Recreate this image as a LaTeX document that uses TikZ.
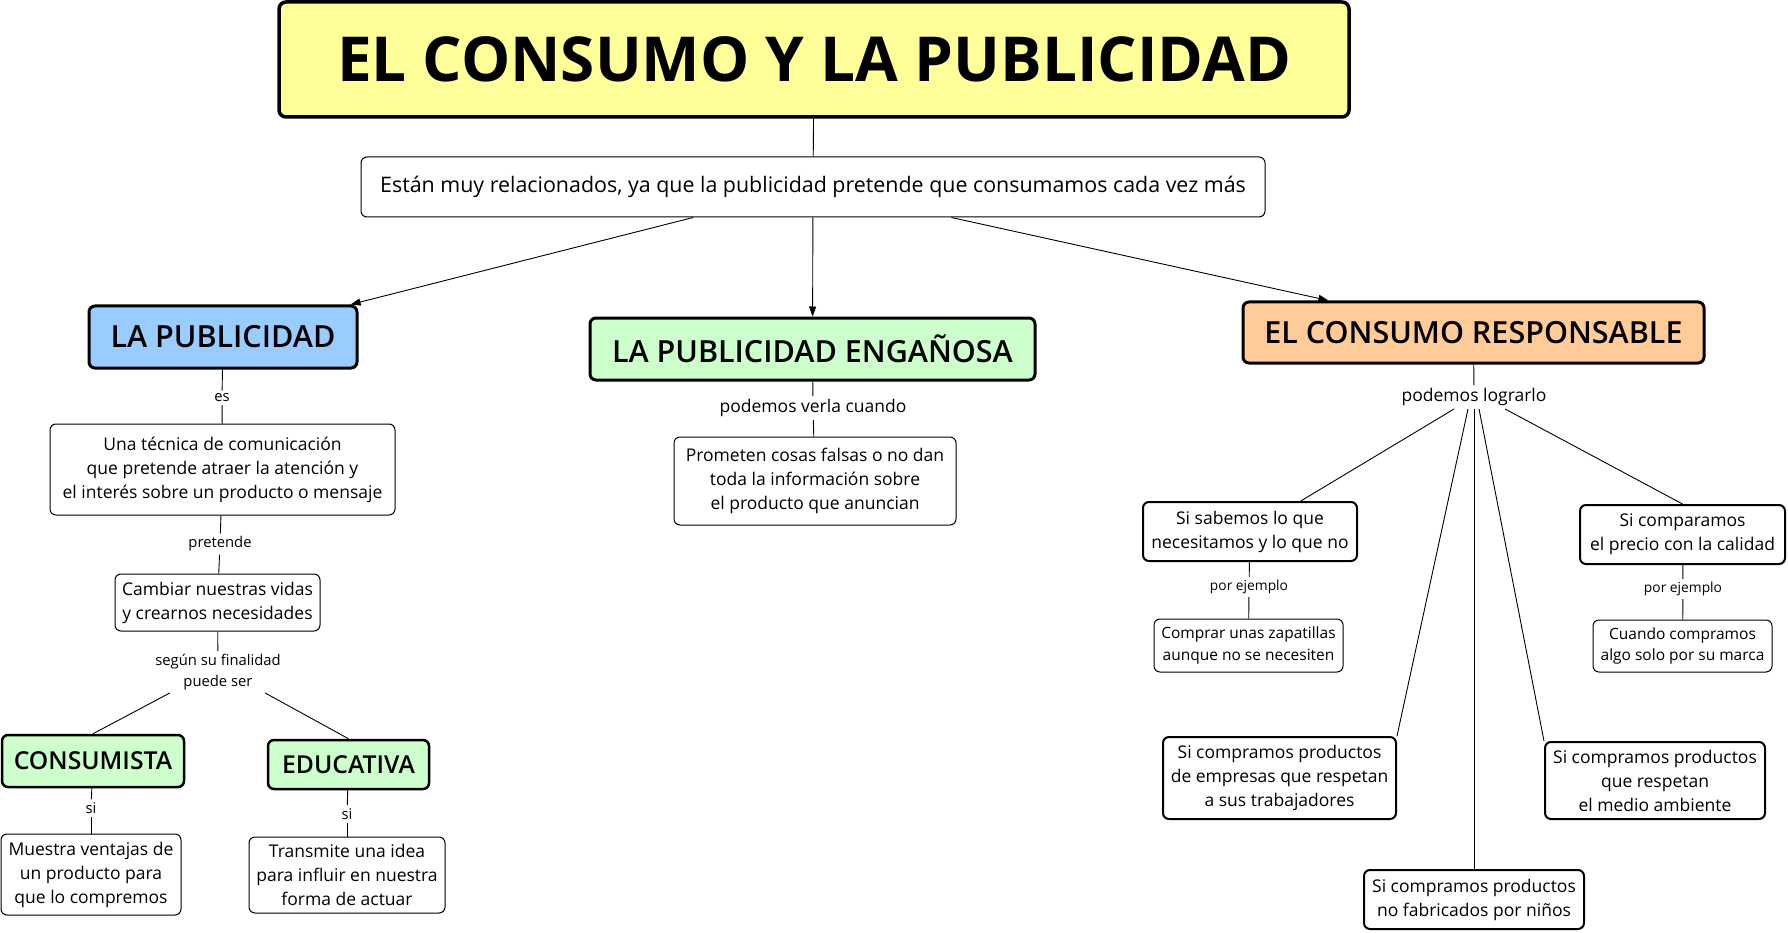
\documentclass[tikz,border=0pt]{standalone}
\usepackage{fontspec}
\setmainfont{Open Sans}
\newfontfamily\headfont{Open Sans Semibold}
\newfontfamily\titlefont{Open Sans Bold}
\usetikzlibrary{arrows.meta}
\definecolor{titleyellow}{RGB}{255,255,153}
\definecolor{pubblue}{RGB}{153,204,255}
\definecolor{enggreen}{RGB}{204,255,204}
\definecolor{resporange}{RGB}{255,204,153}

\begin{document}
\begin{tikzpicture}[x=1pt,y=-1pt,
  box/.style={draw, rounded corners=6pt, align=center, inner sep=2pt, fill=white, line width=1pt, font=\fontsize{17.5}{24}\selectfont},
  titlebox/.style={box, fill=titleyellow, line width=3.5pt, rounded corners=7pt, font=\titlefont\fontsize{62}{66}\selectfont},
  headbox/.style={box, line width=3pt, font=\headfont\fontsize{30.5}{34}\selectfont},
  smallhead/.style={box, line width=2.5pt, font=\headfont\fontsize{24.7}{28}\selectfont},
  boldbox/.style={box, line width=2pt},
  smallbox/.style={box, font=\fontsize{15.5}{21.5}\selectfont},
  linklabel/.style={align=center, inner sep=3pt, font=\fontsize{14.8}{20.5}\selectfont},
  biglabel/.style={linklabel, font=\fontsize{17.5}{22}\selectfont},
  exlabel/.style={linklabel, font=\fontsize{13.8}{16}\selectfont},
  link/.style={line width=0.9pt},
  arrowlink/.style={link, -{Triangle[length=10pt,width=7pt]}}]
\useasboundingbox (0,0) rectangle (1788,933);

\node[titlebox, minimum width=1070, minimum height=115] (title) at (814,59.5) {EL CONSUMO Y LA PUBLICIDAD};
\node[box, font=\fontsize{21.4}{24}\selectfont, minimum width=904, minimum height=60] (sub) at (813,187) {Están muy relacionados, ya que la publicidad pretende que consumamos cada vez más};

\node[headbox, fill=pubblue, minimum width=268, minimum height=62] (pub) at (223,337) {LA PUBLICIDAD};
\node[headbox, fill=enggreen, minimum width=445, minimum height=62] (eng) at (812.5,349) {LA PUBLICIDAD ENGAÑOSA};
\node[headbox, fill=resporange, minimum width=461, minimum height=61] (resp) at (1473.5,332.5) {EL CONSUMO RESPONSABLE};

\node[linklabel] (es) at (222,398) {es};
\node[box, minimum width=345, minimum height=91] (tecnica) at (222.5,469.5) {Una técnica de comunicación\\que pretende atraer la atención y\\el interés sobre un producto o mensaje};
\node[linklabel] (pretende) at (220,544) {pretende};
\node[box, minimum width=205, minimum height=57] (cambiar) at (217.5,602.5) {Cambiar nuestras vidas\\y crearnos necesidades};
\node[linklabel] (fin) at (218,672) {según su finalidad\\puede ser};
\node[smallhead, fill=enggreen, minimum width=182, minimum height=52] (consumista) at (93,761) {CONSUMISTA};
\node[smallhead, fill=enggreen, minimum width=161, minimum height=49] (educativa) at (348.5,764.5) {EDUCATIVA};
\node[linklabel] (si1) at (91,808) {si};
\node[linklabel] (si2) at (347,814) {si};
\node[box, minimum width=180, minimum height=81] (muestra) at (91,874.5) {Muestra ventajas de\\un producto para\\que lo compremos};
\node[box, minimum width=196, minimum height=76] (transmite) at (347,875) {Transmite una idea\\para influir en nuestra\\forma de actuar};

\node[biglabel] (verla) at (813,408) {podemos verla cuando};
\node[box, minimum width=282, minimum height=88] (prometen) at (815,481) {Prometen cosas falsas o no dan\\toda la información sobre\\el producto que anuncian};

\node[biglabel] (lograrlo) at (1474,397) {podemos lograrlo};
\node[boldbox, minimum width=214, minimum height=59] (sabemos) at (1250,531.5) {Si sabemos lo que\\necesitamos y lo que no};
\node[exlabel] (ej1) at (1249,587) {por ejemplo};
\node[smallbox, minimum width=189, minimum height=53] (zapatillas) at (1248.5,645.5) {Comprar unas zapatillas\\aunque no se necesiten};
\node[boldbox, minimum width=205, minimum height=59] (comparamos) at (1682.5,534.5) {Si comparamos\\el precio con la calidad};
\node[exlabel] (ej2) at (1683,589) {por ejemplo};
\node[smallbox, minimum width=179, minimum height=52] (marca) at (1682.5,646) {Cuando compramos\\algo solo por su marca};
\node[boldbox, minimum width=233, minimum height=82] (trabajadores) at (1279.5,778) {Si compramos productos\\de empresas que respetan\\a sus trabajadores};
\node[boldbox, minimum width=220, minimum height=77] (ambiente) at (1655,780.5) {Si compramos productos\\que respetan\\el medio ambiente};
\node[boldbox, minimum width=220, minimum height=59] (ninos) at (1474,899.5) {Si compramos productos\\no fabricados por niños};

\draw[link] (title) -- (sub);
\draw[arrowlink] (sub) -- (pub);
\draw[arrowlink] (sub) -- (eng);
\draw[arrowlink] (sub) -- (resp);

\draw[link] (pub) -- (es);
\draw[link] (es) -- (tecnica);
\draw[link] (tecnica) -- (pretende);
\draw[link] (pretende) -- (cambiar);
\draw[link] (cambiar) -- (fin);
\draw[link] ([xshift=-48]fin.south) -- (consumista.north);
\draw[link] ([xshift=47]fin.south) -- (educativa.north);
\draw[link] (consumista) -- (si1);
\draw[link] (si1) -- (muestra);
\draw[link] (educativa) -- (si2);
\draw[link] (si2) -- (transmite);

\draw[link] (eng) -- (verla);
\draw[link] (verla) -- (prometen);

\draw[link] (resp) -- (lograrlo);
\draw[link] (lograrlo) -- (sabemos);
\draw[link] ([xshift=31]lograrlo.south) -- (comparamos.north);
\draw[link] ([xshift=-6]lograrlo.south) -- (trabajadores.north east);
\draw[link] ([xshift=5]lograrlo.south) -- (ambiente.north west);
\draw[link] (lograrlo) -- (ninos);
\draw[link] (sabemos) -- (ej1);
\draw[link] (ej1) -- (zapatillas);
\draw[link] (comparamos) -- (ej2);
\draw[link] (ej2) -- (marca);
\end{tikzpicture}
\end{document}
